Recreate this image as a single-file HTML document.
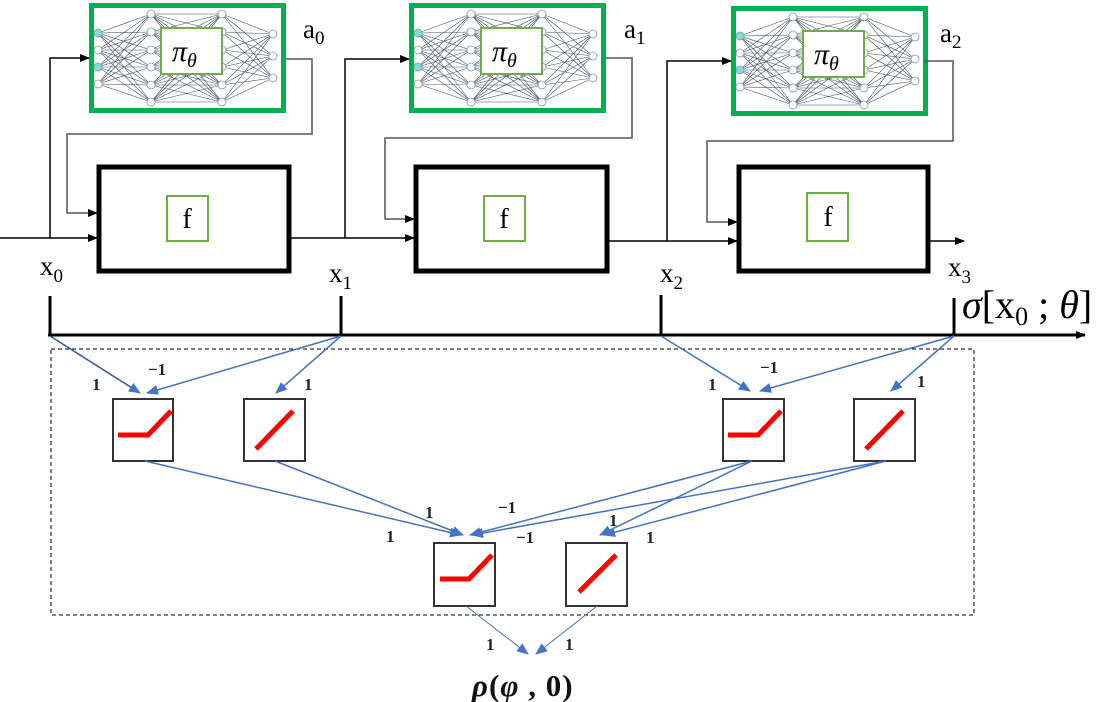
<!DOCTYPE html>
<html><head><meta charset="utf-8">
<style>
html,body{margin:0;padding:0;background:#fff;}
svg{display:block;}
text{font-family:"Liberation Serif","DejaVu Serif",serif;}
.b{font-family:"Liberation Serif",serif;font-weight:bold;font-size:17px;fill:#222;}
</style></head>
<body>
<svg id="s" width="1106" height="702" viewBox="0 0 1106 702" xmlns="http://www.w3.org/2000/svg">
<defs>
<marker id="ak" markerWidth="10" markerHeight="8" refX="9" refY="4" orient="auto" markerUnits="userSpaceOnUse"><path d="M0,0 L10,4 L0,8 z" fill="#000"/></marker>
<marker id="ab" markerWidth="12" markerHeight="10" refX="11" refY="5" orient="auto" markerUnits="userSpaceOnUse"><path d="M0,0 L12,5 L0,10 z" fill="#4472c4"/></marker>
<g id="nn"></g>
</defs>

<g>
<use href="#nn" x="89" y="3"/>
<use href="#nn" x="409" y="3"/>
<use href="#nn" x="731" y="6"/>
</g>

<g fill="none" stroke="#000" stroke-width="5">
<rect x="99" y="167" width="190" height="104"/>
<rect x="416" y="167" width="191" height="104"/>
<rect x="739" y="167" width="189" height="104"/>
</g>
<g fill="#fff" stroke="#70ad47" stroke-width="2">
<rect x="167" y="196" width="41" height="45"/>
<rect x="484" y="196" width="41" height="45"/>
<rect x="807" y="193" width="41" height="48"/>
</g>
<g font-size="28" text-anchor="middle">
<text x="187" y="228">f</text>
<text x="504" y="228">f</text>
<text x="828" y="226">f</text>
</g>

<g fill="none" stroke="#000" stroke-width="1.5">
<line x1="0" y1="238" x2="97" y2="238" marker-end="url(#ak)"/>
<polyline points="50,238 50,58 89,58" marker-end="url(#ak)"/>
<polyline points="290,238 414,238" marker-end="url(#ak)"/>
<polyline points="345,238 345,59 409,59" marker-end="url(#ak)"/>
<polyline points="609,241 737,241" marker-end="url(#ak)"/>
<polyline points="667,241 667,61 731,61" marker-end="url(#ak)"/>
<polyline points="930,241 964,241" marker-end="url(#ak)"/>
</g>
<g fill="none" stroke="#555" stroke-width="1.5">
<polyline points="286,59 312,59 312,134 67,134 67,213 97,213" marker-end="url(#ak)"/>
<polyline points="606,58 632,58 632,138 385,138 385,219 414,219" marker-end="url(#ak)"/>
<polyline points="925,61 953,61 953,141 707,141 707,222 737,222" marker-end="url(#ak)"/>
</g>

<g font-size="27" fill="#000">
<text x="303" y="38">a<tspan font-size="19" dy="6">0</tspan></text>
<text x="624" y="38">a<tspan font-size="19" dy="6">1</tspan></text>
<text x="940" y="42">a<tspan font-size="19" dy="6">2</tspan></text>
</g>
<g font-size="27" fill="#000">
<text x="40" y="275">x<tspan font-size="19" dy="7">0</tspan></text>
<text x="329" y="282">x<tspan font-size="19" dy="7">1</tspan></text>
<text x="660" y="282">x<tspan font-size="19" dy="7">2</tspan></text>
<text x="948" y="276">x<tspan font-size="19" dy="7">3</tspan></text>
</g>
<text x="962" y="318" font-size="40" fill="#000"><tspan font-style="italic">σ</tspan>[x<tspan font-size="26" dy="7">0</tspan><tspan dy="-7"> ; </tspan><tspan font-style="italic">θ</tspan>]</text>

<line x1="48" y1="335" x2="1085" y2="335" stroke="#000" stroke-width="3" marker-end="url(#ak)"/>
<g stroke="#000" stroke-width="3">
<line x1="50" y1="296" x2="50" y2="336"/>
<line x1="341" y1="296" x2="341" y2="336"/>
<line x1="661" y1="295" x2="661" y2="336"/>
<line x1="954" y1="298" x2="954" y2="336"/>
</g>

<rect x="51" y="349" width="923" height="266" fill="none" stroke="#000" stroke-width="1" stroke-dasharray="4,3"/>

<g fill="#fff" stroke="#333" stroke-width="2">
<rect x="113" y="399" width="60" height="62"/>
<rect x="244" y="399" width="61" height="62"/>
<rect x="723" y="399" width="61" height="62"/>
<rect x="854" y="399" width="61" height="62"/>
<rect x="434" y="543" width="61" height="63"/>
<rect x="566" y="543" width="61" height="63"/>
</g>
<g fill="none" stroke="#f00" stroke-width="5">
<polyline points="118,435 148,435 171,411"/>
<line x1="256" y1="449" x2="293" y2="411"/>
<polyline points="728,435 758,435 781,411"/>
<line x1="866" y1="449" x2="903" y2="411"/>
<polyline points="440,579 469,579 492,555"/>
<line x1="579" y1="592" x2="616" y2="555"/>
</g>

<g stroke="#4472c4" stroke-width="1.5" fill="none">
<line x1="50" y1="336" x2="140" y2="393" marker-end="url(#ab)" stroke="#2f5597"/>
<line x1="341" y1="336" x2="147" y2="393" marker-end="url(#ab)"/>
<line x1="341" y1="336" x2="276" y2="393" marker-end="url(#ab)"/>
<line x1="661" y1="336" x2="750" y2="391" marker-end="url(#ab)"/>
<line x1="954" y1="336" x2="760" y2="391" marker-end="url(#ab)"/>
<line x1="954" y1="336" x2="891" y2="391" marker-end="url(#ab)"/>
<line x1="145" y1="461" x2="461" y2="535" marker-end="url(#ab)"/>
<line x1="275" y1="461" x2="463" y2="535" marker-end="url(#ab)"/>
<line x1="752" y1="461" x2="470" y2="535" marker-end="url(#ab)"/>
<line x1="886" y1="461" x2="472" y2="535" marker-end="url(#ab)"/>
<line x1="752" y1="461" x2="600" y2="535" marker-end="url(#ab)"/>
<line x1="886" y1="461" x2="604" y2="535" marker-end="url(#ab)"/>
<line x1="466" y1="606" x2="528" y2="654" marker-end="url(#ab)" stroke-width="1"/>
<line x1="597" y1="606" x2="536" y2="654" marker-end="url(#ab)" stroke-width="1"/>
</g>
<g class="b">
<text x="92" y="390">1</text>
<text x="148" y="375">−1</text>
<text x="304" y="390">1</text>
<text x="708" y="390">1</text>
<text x="760" y="373">−1</text>
<text x="917" y="387">1</text>
<text x="425" y="518">1</text>
<text x="386" y="542">1</text>
<text x="498" y="513">−1</text>
<text x="516" y="543">−1</text>
<text x="609" y="526">1</text>
<text x="646" y="543">1</text>
<text x="486" y="650">1</text>
<text x="565" y="650">1</text>
</g>
<text x="472" y="696" font-size="31" font-weight="bold" font-family="Liberation Serif, serif" fill="#111" letter-spacing="1"><tspan font-style="italic">ρ</tspan>(<tspan font-style="italic">φ</tspan> , 0)</text>
</svg>
<script>
(function(){
 var g=document.getElementById('nn');
 var L=[{x:9,y:[30,47,64,81]},{x:62,y:[11,29,47,64,82,99]},{x:133,y:[11,29,47,64,82,99]},{x:184,y:[31,53,75]}];
 var s='<rect x="2.5" y="2.5" width="192" height="105" fill="#fff" stroke="#00b050" stroke-width="5"/>';
 for(var i=0;i<3;i++){var a=L[i],b=L[i+1];for(var p=0;p<a.y.length;p++)for(var q=0;q<b.y.length;q++)s+='<line x1="'+a.x+'" y1="'+a.y[p]+'" x2="'+b.x+'" y2="'+b.y[q]+'" stroke="#44546a" stroke-width="0.6"/>';}
 for(var i=0;i<4;i++)for(var p=0;p<L[i].y.length;p++){var f=(i==0&&(p==0||p==2))?'#7fdfd4':'#fff';s+='<circle cx="'+L[i].x+'" cy="'+L[i].y[p]+'" r="4" fill="'+f+'" stroke="#8496b0" stroke-width="0.8"/>';}
 s+='<rect x="72" y="25" width="61" height="46" fill="#fff" stroke="#70ad47" stroke-width="2"/>';
 s+='<text x="83" y="58" font-size="30" font-style="italic" font-family="Liberation Serif, serif">π<tspan font-size="20" dy="6">θ</tspan></text>';
 g.innerHTML=s;
})();
</script>
</body></html>
